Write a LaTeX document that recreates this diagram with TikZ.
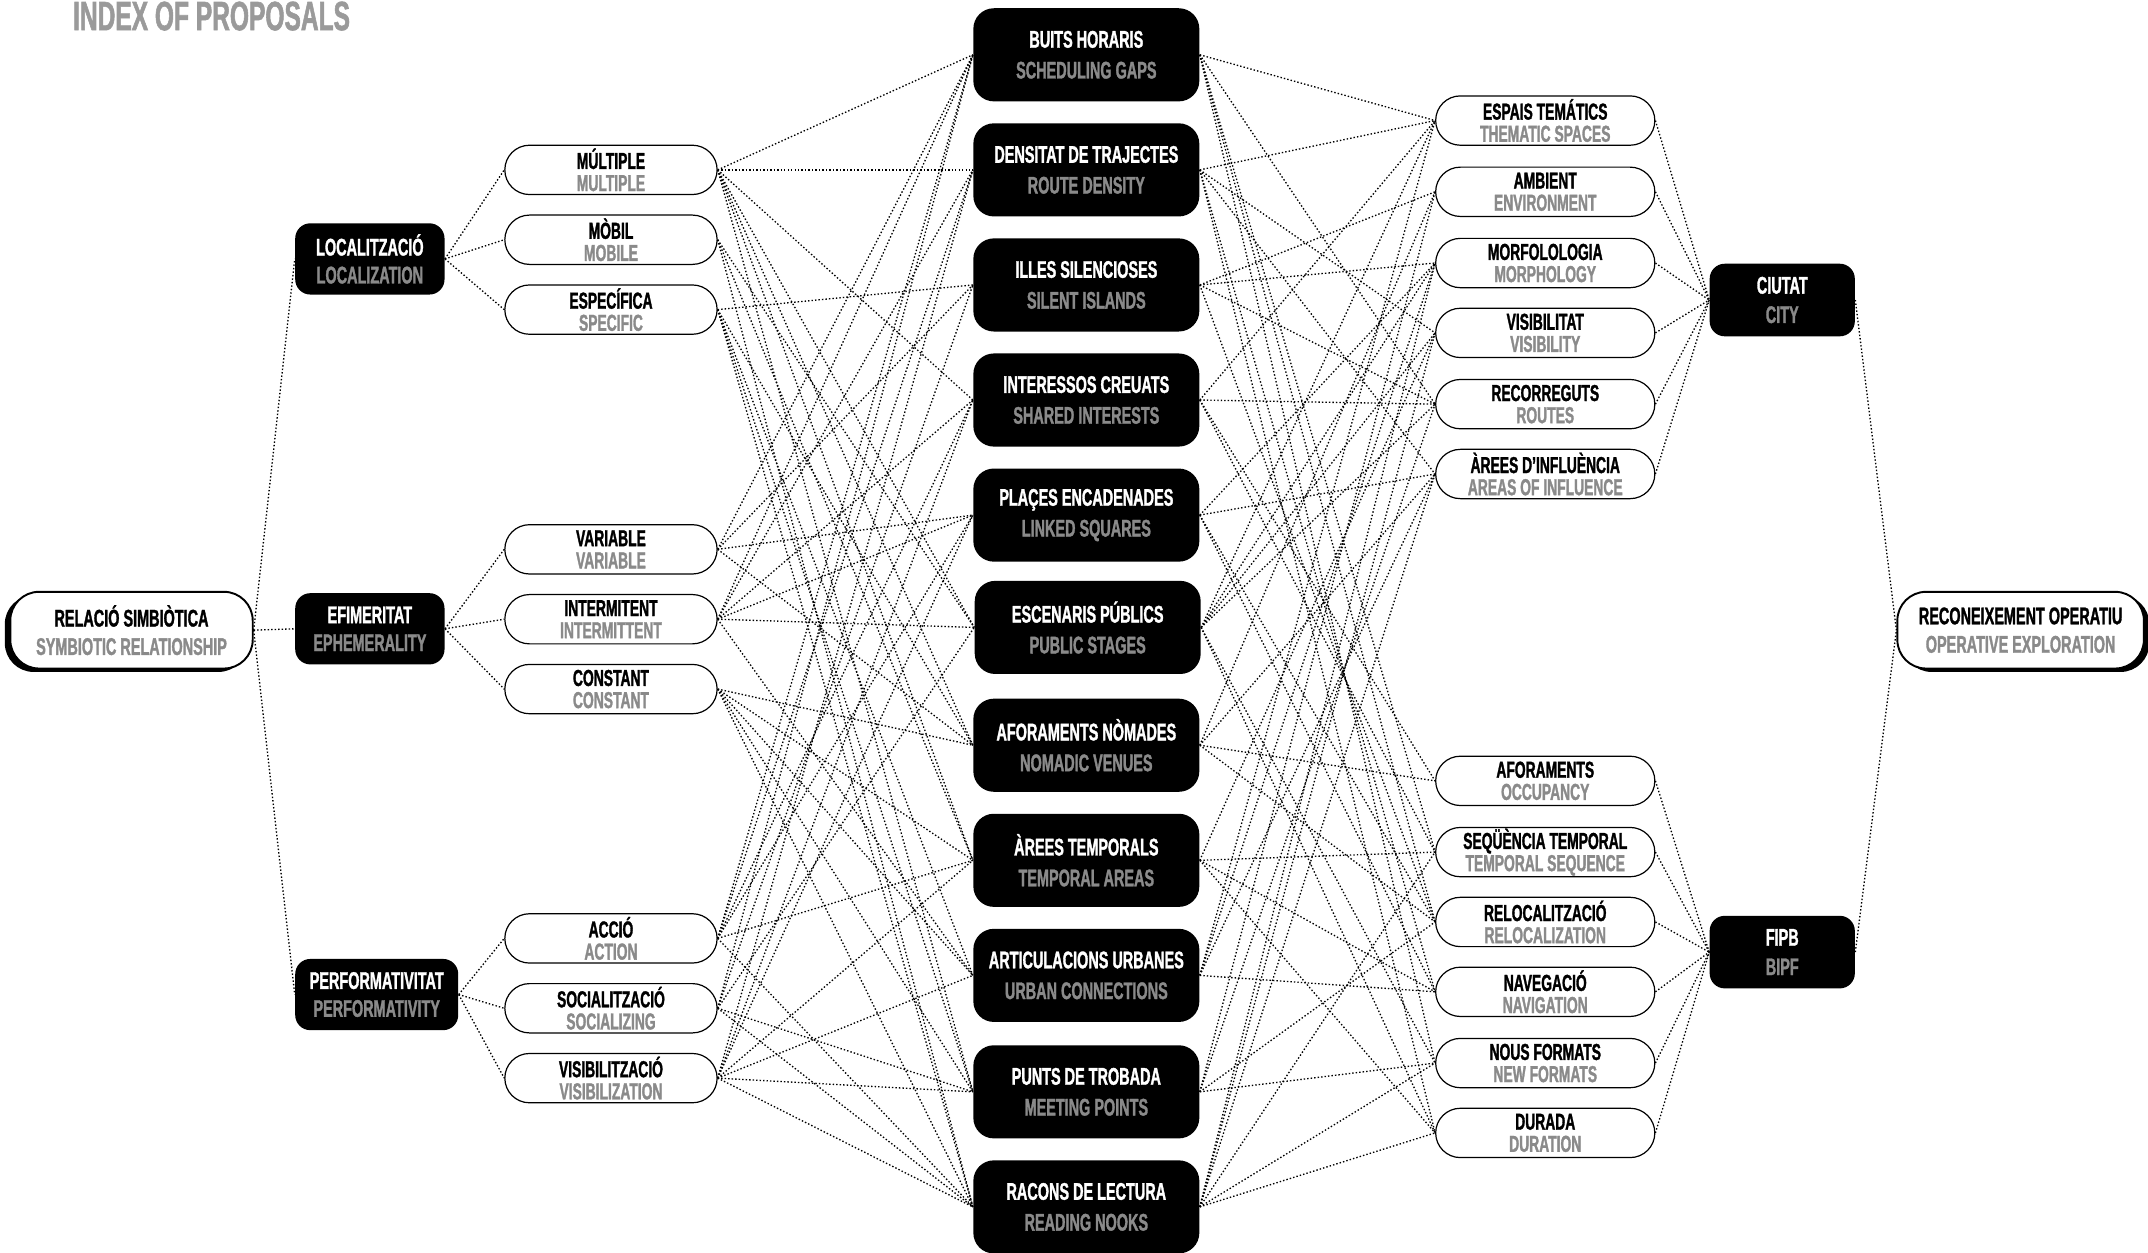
\documentclass[tikz,border=0pt]{standalone}
\usepackage{fontspec}
\usepackage{xcolor}
\usetikzlibrary{shadows}
\newfontfamily\bebas[FakeStretch=0.6,FakeBold=1.3]{Liberation Sans}
\definecolor{engray}{HTML}{8A8A8A}
\definecolor{titlegray}{HTML}{9A9A9A}
\newcommand{\duo}[2]{#1\\\textcolor{engray}{#2}}
\tikzset{
  link/.style={line width=0.55pt,dash pattern=on 0.6pt off 0.85pt},
  catbox/.style={fill=black,text=white,rounded corners=0.22cm,minimum width=2.18cm,minimum height=1.04cm,
    inner sep=0pt,align=center,font=\bebas\bfseries\fontsize{10}{11.6}\selectfont},
  propbox/.style={catbox,rounded corners=0.3cm,minimum width=3.3cm,minimum height=1.36cm,
    font=\bebas\bfseries\fontsize{10}{12.8}\selectfont},
  hubbox/.style={catbox,minimum width=2.12cm,minimum height=1.06cm,font=\bebas\bfseries\fontsize{10}{12.2}\selectfont},
  attrbox/.style={draw=black,line width=0.5pt,fill=white,rounded corners=0.36cm,minimum width=3.1cm,minimum height=0.72cm,
    inner sep=0pt,align=center,font=\bebas\bfseries\fontsize{9.6}{9.2}\selectfont},
  rootbox/.style={draw=black,line width=0.8pt,fill=white,rounded corners=0.42cm,minimum width=3.54cm,minimum height=1.12cm,
    inner sep=0pt,align=center,font=\bebas\bfseries\fontsize{10}{11.8}\selectfont},
}
\begin{document}
\begin{tikzpicture}[x=0.02cm,y=-0.02cm]
    \useasboundingbox (0,0) rectangle (1568,914);
    \node[anchor=base west,inner sep=0pt,text=titlegray,font=\bebas\bfseries\fontsize{17}{17}\selectfont] (title) at (53,22) {INDEX OF PROPOSALS};
    % Root at left
    \node[rootbox,drop shadow={shadow xshift=-0.08cm,shadow yshift=-0.05cm,fill=black,opacity=1}] (rel) at (96,460) {\duo{RELACIÓ SIMBIÒTICA}{SYMBIOTIC RELATIONSHIP}};
    \node[catbox] (loc) at (270,189) {\duo{LOCALITZACIÓ}{LOCALIZATION}};
    \node[catbox] (efi) at (270,459) {\duo{EFIMERITAT}{EPHEMERALITY}};
    \node[catbox,minimum width=2.38cm] (perf) at (275,726) {\duo{PERFORMATIVITAT}{PERFORMATIVITY}};
    % Attributes
    \node[attrbox] (mul) at (446,124) {\duo{MÚLTIPLE}{MULTIPLE}};
    \node[attrbox] (mob) at (446,175) {\duo{MÒBIL}{MOBILE}};
    \node[attrbox] (espc) at (446,226) {\duo{ESPECÍFICA}{SPECIFIC}};
    \node[attrbox] (var) at (446,401) {\duo{VARIABLE}{VARIABLE}};
    \node[attrbox] (intm) at (446,452) {\duo{INTERMITENT}{INTERMITTENT}};
    \node[attrbox] (cons) at (446,503) {\duo{CONSTANT}{CONSTANT}};
    \node[attrbox] (acc) at (446,685) {\duo{ACCIÓ}{ACTION}};
    \node[attrbox] (soc) at (446,736) {\duo{SOCIALITZACIÓ}{SOCIALIZING}};
    \node[attrbox] (visz) at (446,787) {\duo{VISIBILITZACIÓ}{VISIBILIZATION}};
    % Proposals
    \node[propbox] (buits) at (793,40) {\duo{BUITS HORARIS}{SCHEDULING GAPS}};
    \node[propbox] (dens) at (793,124) {\duo{DENSITAT DE TRAJECTES}{ROUTE DENSITY}};
    \node[propbox] (illes) at (793,208) {\duo{ILLES SILENCIOSES}{SILENT ISLANDS}};
    \node[propbox] (inter) at (793,292) {\duo{INTERESSOS CREUATS}{SHARED INTERESTS}};
    \node[propbox] (places) at (793,376) {\duo{PLAÇES ENCADENADES}{LINKED SQUARES}};
    \node[propbox] (escen) at (794,458) {\duo{ESCENARIS PÚBLICS}{PUBLIC STAGES}};
    \node[propbox] (aforn) at (793,544) {\duo{AFORAMENTS NÒMADES}{NOMADIC VENUES}};
    \node[propbox] (arees) at (793,628) {\duo{ÀREES TEMPORALS}{TEMPORAL AREAS}};
    \node[propbox] (artic) at (793,712) {\duo{ARTICULACIONS URBANES}{URBAN CONNECTIONS}};
    \node[propbox] (punts) at (793,797) {\duo{PUNTS DE TROBADA}{MEETING POINTS}};
    \node[propbox] (racons) at (793,881) {\duo{RACONS DE LECTURA}{READING NOOKS}};
    % Criteria
    \node[attrbox,minimum width=3.2cm] (espais) at (1128,88) {\duo{ESPAIS TEMÁTICS}{THEMATIC SPACES}};
    \node[attrbox,minimum width=3.2cm] (amb) at (1128,140) {\duo{AMBIENT}{ENVIRONMENT}};
    \node[attrbox,minimum width=3.2cm] (morf) at (1128,192) {\duo{MORFOLOLOGIA}{MORPHOLOGY}};
    \node[attrbox,minimum width=3.2cm] (visb) at (1128,243) {\duo{VISIBILITAT}{VISIBILITY}};
    \node[attrbox,minimum width=3.2cm] (recor) at (1128,295) {\duo{RECORREGUTS}{ROUTES}};
    \node[attrbox,minimum width=3.2cm] (infl) at (1128,346) {\duo{ÀREES D’INFLUÈNCIA}{AREAS OF INFLUENCE}};
    \node[attrbox,minimum width=3.2cm] (afor) at (1128,570) {\duo{AFORAMENTS}{OCCUPANCY}};
    \node[attrbox,minimum width=3.2cm] (seq) at (1128,622) {\duo{SEQÜÈNCIA TEMPORAL}{TEMPORAL SEQUENCE}};
    \node[attrbox,minimum width=3.2cm] (reloc) at (1128,673) {\duo{RELOCALITZACIÓ}{RELOCALIZATION}};
    \node[attrbox,minimum width=3.2cm] (naveg) at (1128,724) {\duo{NAVEGACIÓ}{NAVIGATION}};
    \node[attrbox,minimum width=3.2cm] (nous) at (1128,776) {\duo{NOUS FORMATS}{NEW FORMATS}};
    \node[attrbox,minimum width=3.2cm] (durada) at (1128,827) {\duo{DURADA}{DURATION}};
    % Hubs and root at right
    \node[hubbox] (ciutat) at (1301,219) {\duo{CIUTAT}{CITY}};
    \node[hubbox] (fipb) at (1301,695) {\duo{FIPB}{BIPF}};
    \node[rootbox,minimum width=3.6cm,drop shadow={shadow xshift=0.08cm,shadow yshift=-0.05cm,fill=black,opacity=1}] (rec) at (1475,460) {\duo{RECONEIXEMENT OPERATIU}{OPERATIVE EXPLORATION}};
    % Tree links
    \foreach \c in {loc,efi,perf}
        \draw[link] (rel.east) -- (\c.west);
    \foreach \s/\a in {loc/mul,loc/mob,loc/espc,efi/var,efi/intm,efi/cons,perf/acc,perf/soc,perf/visz}
        \draw[link] (\s.east) -- (\a.west);
    \foreach \a in {espais,amb,morf,visb,recor,infl}
        \draw[link] (\a.east) -- (ciutat.west);
    \foreach \a in {afor,seq,reloc,naveg,nous,durada}
        \draw[link] (\a.east) -- (fipb.west);
    \draw[link] (ciutat.east) -- (rec.west);
    \draw[link] (fipb.east) -- (rec.west);
    % Attributes to proposals
    \foreach \s/\ts in {mul/{buits,dens,inter,escen,aforn,arees,punts},
                        mob/{escen,arees,racons},
                        espc/{illes,aforn,artic,punts,racons},
                        var/{buits,illes,places,aforn},
                        intm/{buits,dens,inter,places,escen,artic},
                        cons/{aforn,arees,artic,punts,racons},
                        acc/{buits,dens,inter,places,arees,racons},
                        soc/{buits,illes,escen,punts,racons},
                        visz/{dens,inter,places,arees,artic,punts,racons}}
        \foreach \t in \ts
            \draw[link] (\s.east) -- (\t.west);
    % Proposals to criteria
    \foreach \s/\ts in {buits/{espais,recor,seq,reloc,nous},
                        dens/{espais,visb,infl,naveg,durada},
                        illes/{amb,morf,recor,reloc},
                        inter/{espais,recor,afor,seq},
                        places/{morf,infl,reloc,naveg},
                        escen/{espais,morf,visb,recor,nous,durada},
                        aforn/{amb,infl,afor,reloc},
                        arees/{visb,seq,naveg,durada},
                        artic/{espais,morf,infl,naveg},
                        punts/{amb,recor,reloc,nous},
                        racons/{morf,visb,infl,seq,nous,durada}}
        \foreach \t in \ts
            \draw[link] (\s.east) -- (\t.west);
\end{tikzpicture}
\end{document}
